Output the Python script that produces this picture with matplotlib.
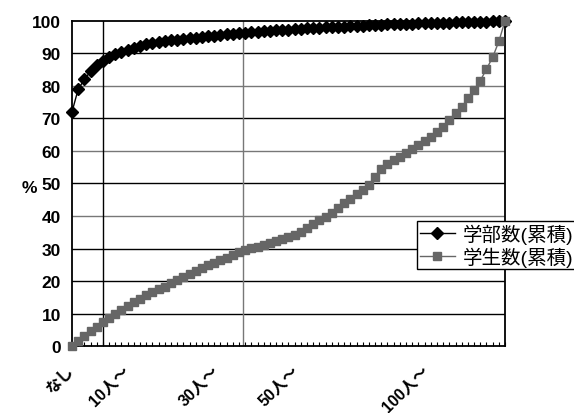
import matplotlib
matplotlib.use("Agg")
import matplotlib.pyplot as plt
import matplotlib.transforms as mtransforms
import numpy as np

plt.rcParams['font.family'] = ['Liberation Sans', 'Noto Sans CJK JP', 'DejaVu Sans']

# cumulative % of faculties (black diamonds)
faculty = [72, 79, 82, 84.5, 86.5, 87.8, 88.8, 89.7, 90.5, 91.2,
           91.8, 92.3, 92.8, 93.2, 93.5, 93.8, 94.0, 94.3, 94.5, 94.7,
           94.9, 95.1, 95.3, 95.5, 95.7, 95.9, 96.0, 96.2, 96.4, 96.5,
           96.7, 96.8, 97.0, 97.1, 97.2, 97.3, 97.5, 97.6, 97.7, 97.8,
           97.9, 98.0, 98.1, 98.2, 98.3, 98.4, 98.5, 98.6, 98.7, 98.8,
           98.9, 99.0, 99.0, 99.1, 99.2, 99.2, 99.3, 99.3, 99.4, 99.4,
           99.5, 99.5, 99.6, 99.6, 99.7, 99.7, 99.8, 99.8, 99.9, 99.9,
           100]

# cumulative % of students (grey squares)
students = [0, 1.6, 3.1, 4.6, 6.0, 7.4, 8.7, 10.0, 11.2, 12.4,
            13.5, 14.6, 15.6, 16.5, 17.4, 18.3, 19.3, 20.3, 21.3, 22.2,
            23.1, 24.0, 24.8, 25.6, 26.4, 27.2, 28.0, 28.8, 29.5, 30.1,
            30.6, 31.1, 31.6, 32.2, 32.8, 33.5, 34.3, 35.2, 36.3, 37.5,
            38.8, 39.8, 41.0, 42.5, 44.0, 45.3, 46.8, 48.0, 49.4, 52.0,
            54.5, 56.0, 57.2, 58.2, 59.3, 60.6, 61.8, 63.0, 64.3, 65.8,
            67.4, 69.6, 71.7, 73.6, 76.2, 78.9, 81.6, 85.2, 88.8, 93.7,
            100]

label_pos = [-0.9, 8.0, 22.5, 35.5, 56.5]
label_txt = ['なし', '10人〜', '30人〜', '50人〜', '100人〜']
series_names = ['学部数(累積)', '学生数(累積)']

x = np.arange(len(faculty))

fig = plt.figure(figsize=(5.74, 4.14), dpi=100)
ax = fig.add_axes([0.1254, 0.1618, 0.7544, 0.7851])

# horizontal gridlines
grid_cols = {10: 'black', 20: 'black', 30: 'black', 40: '#777777', 50: 'black',
             60: '#777777', 70: 'black', 80: '#777777', 90: 'black'}
for v, c in grid_cols.items():
    ax.axhline(v, color=c, lw=1, zorder=1)
ax.axvline(5, color='black', lw=1, zorder=1)
ax.axvline(27.6, color='#777777', lw=1, zorder=1)

l1, = ax.plot(x, faculty, color='black', lw=1, marker='D', ms=6,
              mfc='black', mec='black', zorder=3, clip_on=False)
l2, = ax.plot(x, students, color='#666666', lw=1, marker='s', ms=6,
              mfc='#666666', mec='#666666', zorder=3, clip_on=False)

ax.set_xlim(0, len(x) - 1)
ax.set_ylim(0, 100)
ax.set_yticks(range(0, 101, 10))
ax.tick_params(axis='y', length=0, pad=8)
for t in ax.get_yticklabels():
    t.set_fontsize(12.5)
    t.set_fontweight('bold')

# category labels drawn as text below the axis
ax.set_xticks([])
ax.set_xticks(x[1:], minor=True)
ax.tick_params(axis='x', which='minor', direction='in', length=3, width=0.8)
trans = ax.get_xaxis_transform() + mtransforms.ScaledTranslation(0, -16 / 100, fig.dpi_scale_trans)
for p, t in zip(label_pos, label_txt):
    ax.text(p, 0, t, transform=trans, rotation=45, ha='right', va='top',
            rotation_mode='anchor', fontsize=11.5, fontweight='bold', clip_on=False)

for s in ax.spines.values():
    s.set_color('black')
    s.set_linewidth(1.3)

fig.text(0.052, 0.545, '%', fontsize=12.5, fontweight='bold', ha='center', va='center')

leg = fig.legend([l1, l2], series_names, loc='upper left',
                 bbox_to_anchor=(0.7265, 0.4638), borderaxespad=0,
                 fancybox=False, framealpha=1, edgecolor='black',
                 fontsize=14, handlelength=1.8, handletextpad=0.4,
                 borderpad=0.15, labelspacing=0.1)
leg.get_frame().set_linewidth(1)

fig.savefig('out.png', dpi=100)
